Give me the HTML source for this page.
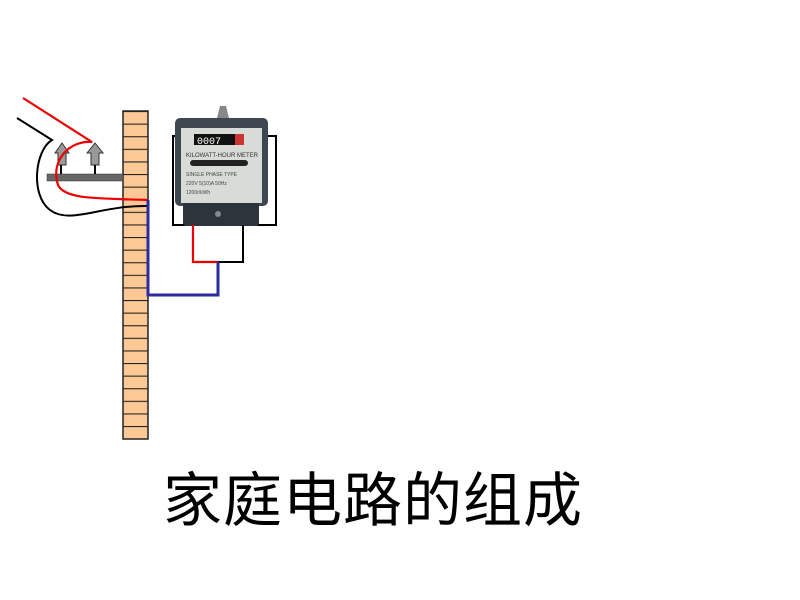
<!DOCTYPE html>
<html><head><meta charset="utf-8"><style>
body{margin:0;width:800px;height:600px;background:#fff;position:relative;overflow:hidden}
.t{position:absolute;left:163px;top:453px;font-family:"Liberation Sans","Noto Sans CJK SC",sans-serif;font-size:59px;color:#000;letter-spacing:1px;white-space:nowrap}
</style></head><body>
<svg width="800" height="600" style="position:absolute;left:0;top:0">
<defs>
<pattern id="br" x="0" y="111" width="26" height="12.6" patternUnits="userSpaceOnUse">
<rect width="26" height="12.6" fill="#fcc996"/><line x1="0" y1="0.5" x2="26" y2="0.5" stroke="#222" stroke-width="1.3"/>
</pattern>
</defs>
<rect x="123" y="111" width="25" height="328" fill="url(#br)" stroke="#222" stroke-width="1.5"/>
<rect x="47" y="174" width="76" height="7" fill="#666" stroke="#333" stroke-width="0.5"/>
<g fill="#999" stroke="#333" stroke-width="1">
<path d="M55,153 L62,143 L69,153 L66,153 L66,165 L58,165 L58,153Z"/>
<path d="M87,153 L95,143 L103,153 L99,153 L99,165 L91,165 L91,153Z"/>
</g>
<line x1="61" y1="165" x2="61" y2="174" stroke="#000" stroke-width="2"/>
<line x1="95" y1="165" x2="95" y2="174" stroke="#000" stroke-width="2"/>
<path d="M17,118 L52,140 C35,150 30,195 50,210 C70,225 100,205 148,206" fill="none" stroke="#000" stroke-width="2"/>
<path d="M23,98 L92,142 C70,140 50,160 58,185 C65,200 100,198 148,200" fill="none" stroke="#e00" stroke-width="2.2"/>
<rect x="173" y="136" width="103" height="89" fill="none" stroke="#000" stroke-width="2"/>
<rect x="175" y="118" width="93" height="88" rx="5" fill="#3e4650"/>
<rect x="183" y="200" width="76" height="26" rx="3" fill="#2e343c"/>
<rect x="181" y="128" width="81" height="75" fill="#d8dcd8"/>
<path d="M217,118 L220,106 L226,106 L229,118Z" fill="#888"/>
<rect x="194" y="134" width="48" height="11" fill="#111"/>
<g fill="#fff" font-family="Liberation Mono,monospace" font-size="10"><text x="197" y="144">0007</text></g>
<rect x="235" y="134" width="9" height="11" fill="#c33"/>
<text x="186" y="157" font-size="6" fill="#333" font-family="Liberation Sans,sans-serif">KILOWATT-HOUR METER</text>
<rect x="190" y="160" width="58" height="6" rx="3" fill="#222"/>
<text x="186" y="176" font-size="5" fill="#444" font-family="Liberation Sans,sans-serif">SINGLE PHASE TYPE</text>
<text x="186" y="185" font-size="5" fill="#444" font-family="Liberation Sans,sans-serif">220V 5(10)A 50Hz</text>
<text x="186" y="194" font-size="5" fill="#444" font-family="Liberation Sans,sans-serif">1200r/kWh</text>
<circle cx="218" cy="214" r="3" fill="#888"/>
<polyline points="193,225 193,262 218,262" fill="none" stroke="#e00" stroke-width="2.2"/>
<polyline points="243,225 243,262 218,262" fill="none" stroke="#000" stroke-width="2"/>
<polyline points="218,262 218,295 148,295 148,200" fill="none" stroke="#2a2ca0" stroke-width="3"/>
</svg>
<div class="t">家庭电路的组成</div>
</body></html>
